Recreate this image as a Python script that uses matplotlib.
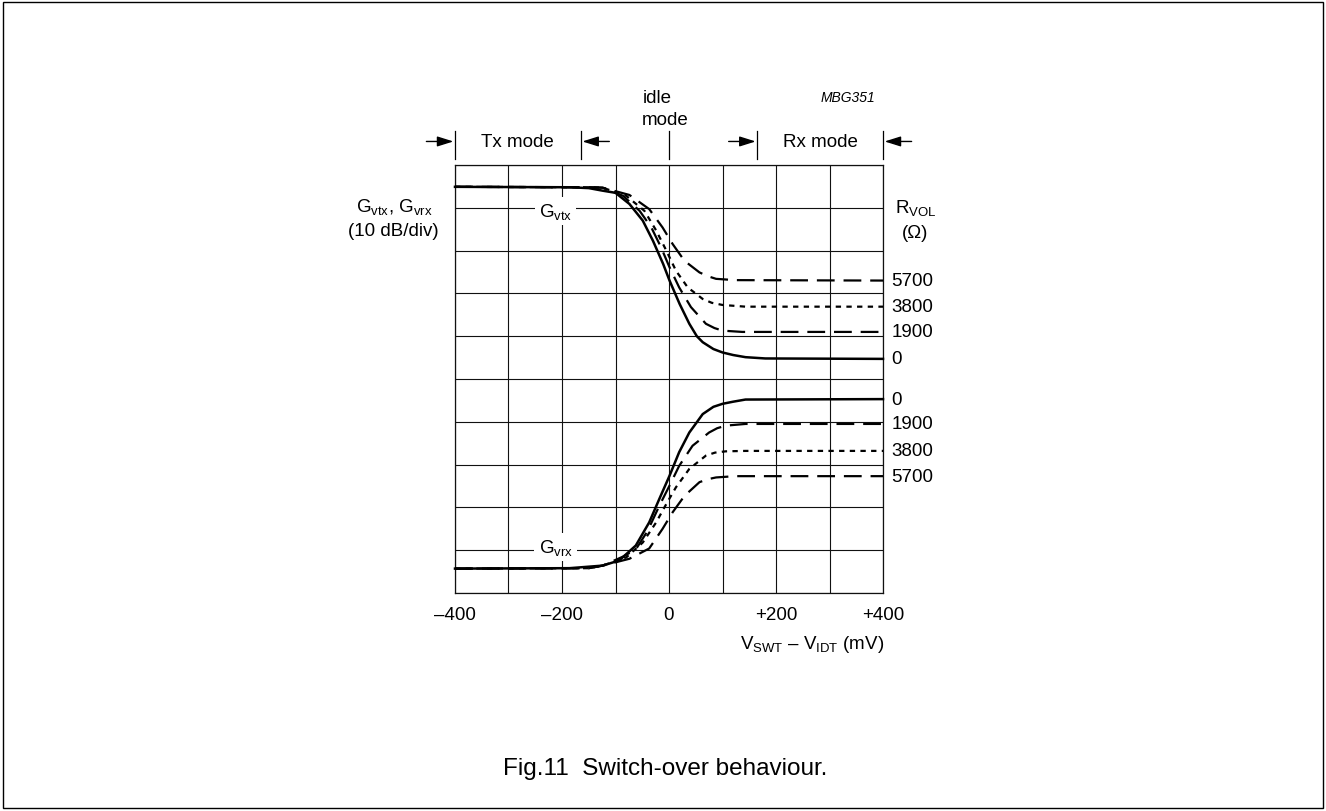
import matplotlib
matplotlib.use("Agg")
import matplotlib.pyplot as plt
from matplotlib.patches import Rectangle

plt.rcParams['font.family'] = ['Liberation Sans', 'DejaVu Sans']
plt.rcParams['mathtext.fontset'] = 'custom'
plt.rcParams['mathtext.rm'] = 'Liberation Sans'
plt.rcParams['mathtext.default'] = 'regular'

# x in mV (V_SWT - V_IDT), y in divisions of 10 dB (0 = bottom grid line)
vtx_0_x = [-400, -186, -150, -124, -100, -87, -74, -49, -30, -11, 1, 20, 38, 52, 63, 83, 100, 120, 143, 180, 400]
vtx_0_y = [9.49, 9.48, 9.46, 9.40, 9.35, 9.22, 9.09, 8.70, 8.23, 7.69, 7.30, 6.75, 6.29, 6.00, 5.86, 5.70, 5.62, 5.56, 5.51, 5.48, 5.47]
vtx_1900_x = [-400, -150, -124, -86, -55, -33, -15, 1, 19, 41, 69, 85, 100, 137, 400]
vtx_1900_y = [9.49, 9.48, 9.47, 9.28, 8.93, 8.54, 8.08, 7.61, 7.14, 6.68, 6.29, 6.19, 6.13, 6.10, 6.10]
vtx_3800_x = [-400, -150, -124, -80, -46, -24, -5, 13, 35, 63, 80, 100, 143, 400]
vtx_3800_y = [9.49, 9.48, 9.47, 9.28, 8.93, 8.47, 8.00, 7.53, 7.14, 6.87, 6.78, 6.73, 6.69, 6.69]
vtx_5700_x = [-400, -150, -124, -74, -37, -12, 7, 29, 57, 73, 88, 124, 400]
vtx_5700_y = [9.49, 9.48, 9.47, 9.30, 8.97, 8.54, 8.15, 7.76, 7.49, 7.40, 7.34, 7.31, 7.30]

vrx_0_x = [-400, -186, -124, -93, -62, -37, -18, 1, 19, 38, 52, 63, 83, 100, 120, 143, 400]
vrx_0_y = [0.57, 0.58, 0.64, 0.76, 1.11, 1.65, 2.20, 2.74, 3.29, 3.75, 3.99, 4.18, 4.35, 4.42, 4.47, 4.52, 4.53]
vrx_1900_x = [-400, -150, -124, -86, -62, -40, -18, 1, 19, 44, 75, 90, 106, 143, 400]
vrx_1900_y = [0.57, 0.58, 0.64, 0.85, 1.02, 1.45, 2.04, 2.51, 2.97, 3.44, 3.75, 3.85, 3.91, 3.95, 3.95]
vrx_3800_x = [-400, -150, -124, -80, -49, -24, -5, 13, 38, 69, 86, 106, 143, 400]
vrx_3800_y = [0.57, 0.58, 0.64, 0.83, 1.18, 1.65, 2.08, 2.47, 2.90, 3.21, 3.28, 3.31, 3.32, 3.32]
vrx_5700_x = [-400, -150, -124, -74, -37, -12, 7, 29, 57, 73, 88, 124, 400]
vrx_5700_y = [0.57, 0.58, 0.64, 0.80, 1.04, 1.50, 1.89, 2.27, 2.59, 2.66, 2.70, 2.73, 2.73]

r_vol = ['0', '1900', '3800', '5700']
x_ticks = [-400, -200, 0, 200, 400]
x_ticklabels = ['\u2013400', '\u2013200', '0', '+200', '+400']

# mode boundaries (mV)
tx_edges = [-400, -165]
rx_edges = [165, 400]

FS = 13.5
dash = (0, (8, 4))
dot = (0, (2.4, 2.4))
styles = ['-', dash, dot, dash]

fig = plt.figure(figsize=(13.26, 8.12), dpi=100)
ax = fig.add_axes([455 / 1326, 1 - 594 / 812, 428 / 1326, 428 / 812])

ax.set_xlim(-400, 400)
ax.set_ylim(0, 10)
ax.set_yticks(range(0, 11))
ax.set_xticks(x_ticks, x_ticklabels)
ax.set_xticks(range(-400, 401, 100), minor=True)
ax.grid(True, which='both', color='#111111', linewidth=0.8)
ax.set_axisbelow(True)
for s in ax.spines.values():
    s.set_linewidth(0.9)
    s.set_color('#111111')
ax.tick_params(which='both', length=0, labelleft=False, pad=9, labelsize=FS)

tx = [(vtx_0_x, vtx_0_y), (vtx_1900_x, vtx_1900_y), (vtx_3800_x, vtx_3800_y), (vtx_5700_x, vtx_5700_y)]
rx = [(vrx_0_x, vrx_0_y), (vrx_1900_x, vrx_1900_y), (vrx_3800_x, vrx_3800_y), (vrx_5700_x, vrx_5700_y)]
for group in (tx, rx):
    for (xs, ys), ls, lab in zip(group, styles, r_vol):
        lw = 1.8 if ls == '-' else 1.6
        ax.plot(xs, ys, color='black', linestyle=ls, linewidth=lw, clip_on=False, zorder=3)
        ax.text(1.019, ys[-1], lab, transform=ax.get_yaxis_transform(),
                ha='left', va='center', fontsize=FS)

box = dict(facecolor='white', edgecolor='none', pad=3)
ax.text(-212, 8.93, 'G$_{vtx}$', ha='center', va='center', fontsize=FS, bbox=box, zorder=2.5)
ax.text(-212, 1.07, 'G$_{vrx}$', ha='center', va='center', fontsize=FS, bbox=box, zorder=2.5)

# axis titles
ax.text(-0.143, 0.905, 'G$_{vtx}$, G$_{vrx}$', transform=ax.transAxes, ha='center', va='center', fontsize=FS)
ax.text(-0.143, 0.846, '(10 dB/div)', transform=ax.transAxes, ha='center', va='center', fontsize=FS)
ax.text(1.076, 0.902, 'R$_{VOL}$', transform=ax.transAxes, ha='center', va='center', fontsize=FS)
ax.text(1.076, 0.843, '(\u03a9)', transform=ax.transAxes, ha='center', va='center', fontsize=FS)
ax.text(0.666, -0.119, 'V$_{SWT}$ \u2013 V$_{IDT}$ (mV)', transform=ax.transAxes,
        ha='left', va='center', fontsize=FS)

# mode markers above the plot
tr = ax.get_xaxis_transform()
y_bar0, y_bar1, y_arr = 1.014, 1.079, 1.055
for xv in tx_edges + [0] + rx_edges:
    ax.plot([xv, xv], [y_bar0, y_bar1], transform=tr, color='black', linewidth=0.9, clip_on=False)
arrow = dict(arrowstyle='-|>,head_length=0.7,head_width=0.22', color='black', linewidth=1.0,
             mutation_scale=14, shrinkA=0, shrinkB=0)
alen = 27 / 0.535
for edge, direction in [(tx_edges[0], 1), (tx_edges[1], -1), (rx_edges[0], 1), (rx_edges[1], -1)]:
    ax.annotate('', xy=(edge - direction * 3, y_arr), xytext=(edge - direction * (alen + 3), y_arr),
                xycoords=tr, textcoords=tr, arrowprops=arrow, annotation_clip=False)
ax.text(sum(tx_edges) / 2, y_arr, 'Tx mode', transform=tr, ha='center', va='center', fontsize=FS)
ax.text(sum(rx_edges) / 2, y_arr, 'Rx mode', transform=tr, ha='center', va='center', fontsize=FS)
ax.text(-50, 1.158, 'idle', transform=tr, ha='left', va='center', fontsize=FS)
ax.text(-50, 1.107, 'mode', transform=tr, ha='left', va='center', fontsize=FS)
ax.text(335, 1.159, 'MBG351', transform=tr, ha='center', va='center', fontsize=10, style='italic')

fig.text(0.502, 0.053, 'Fig.11  Switch-over behaviour.', ha='center', va='center', fontsize=17.5)
fig.patches.append(Rectangle((0.0025, 0.004), 0.995, 0.992, transform=fig.transFigure,
                             fill=False, edgecolor='black', linewidth=1))

fig.savefig('out.png', dpi=100)
